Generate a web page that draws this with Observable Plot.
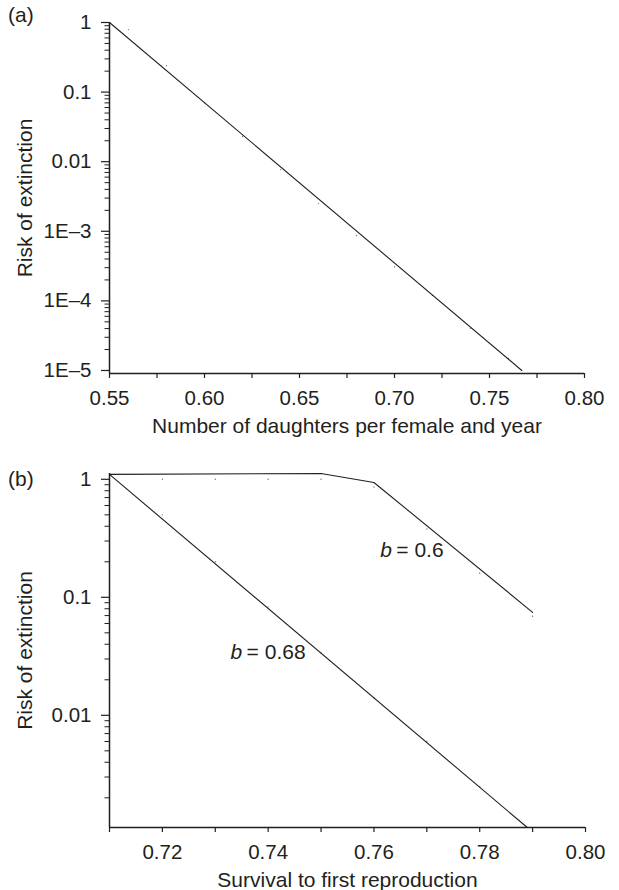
<!DOCTYPE html>
<html><head><meta charset="utf-8">
<script src="https://cdn.jsdelivr.net/npm/d3@7"></script>
<script src="https://cdn.jsdelivr.net/npm/@observablehq/plot@0.6"></script>
<style>
body{margin:0;background:#fff;font-family:"Liberation Sans",Arial,sans-serif;color:#231f20}
#wrap{position:relative;width:619px;height:890px;overflow:hidden}
.panel{position:absolute;left:0}
.tag{position:absolute;left:8px;font-size:21px;line-height:1}
</style></head><body>
<div id="wrap"></div>
<script>
// ---------- Panel (a) data ----------
const fitA_x = [0.55, 0.767];
const fitA_y = [1, 1e-5];
const dotsA_x = [0.56, 0.58, 0.60, 0.62, 0.64, 0.66, 0.68, 0.70, 0.72, 0.74, 0.76];
const dotsA_y = [0.79, 0.24, 0.07, 0.023, 0.0077, 0.0025, 8.7e-4, 3.1e-4, 1.2e-4, 4e-5, 1.5e-5];
const xTicksA = [0.55, 0.60, 0.65, 0.70, 0.75, 0.80];
const xMinorA = [0.575, 0.625, 0.675, 0.725, 0.775];
const yTicksA = [1, 0.1, 0.01, 1e-3, 1e-4, 1e-5];
const yTickLabelsA = ["1", "0.1", "0.01", "1E\u20133", "1E\u20134", "1E\u20135"];
const xLabelA = "Number of daughters per female and year";

// ---------- Panel (b) data ----------
const lineB60_x = [0.71, 0.75, 0.76, 0.79];
const lineB60_y = [1.1, 1.12, 0.94, 0.0746];
const dotsB60_x = [0.72, 0.73, 0.74, 0.75, 0.76, 0.77, 0.78, 0.79];
const dotsB60_y = [1.0, 1.0, 1.0, 1.0, 0.86, 0.38, 0.16, 0.069];
const lineB68_x = [0.71, 0.789];
const lineB68_y = [1.1, 0.00112];
const dotsB68_x = [0.72, 0.73, 0.74, 0.75, 0.76, 0.77, 0.78];
const dotsB68_y = [0.50, 0.20, 0.083, 0.034, 0.014, 0.006, 0.0025];
const xTicksB = [0.72, 0.74, 0.76, 0.78, 0.80];
const xMinorB = [0.71, 0.73, 0.75, 0.77, 0.79];
const yTicksB = [1, 0.1, 0.01];
const yTickLabelsB = ["1", "0.1", "0.01"];
const xLabelB = "Survival to first reproduction";
const labelB60 = {x: 0.7612, y: 0.25, value: "0.6"};
const labelB68 = {x: 0.7329, y: 0.034, value: "0.68"};
const yLabel = "Risk of extinction";

const zip = (xs, ys) => xs.map((x, i) => ({x, y: ys[i]}));
function minorLog(lo, hi) {
  const out = [];
  for (let e = Math.floor(Math.log10(lo)); e <= Math.ceil(Math.log10(hi)); e++)
    for (let k = 2; k <= 9; k++) { const v = k * Math.pow(10, e); if (v >= lo && v <= hi) out.push(v); }
  return out;
}
const ink = "#231f20";
const font = {fontFamily: '"Liberation Sans", Arial, sans-serif', fontSize: "20px", color: ink, background: "white"};
const TICK_FS = 20.5, TITLE_FS = 21;

function panel({xDomain, yDomain, xTicks, xMinor, yTicks, yTickLabels, xLabel, mT, mB, mR, marks, xFmt}) {
  const yFmt = d => yTickLabels[yTicks.findIndex(t => Math.abs(t - d) / t < 1e-6)] ?? "";
  return Plot.plot({
    width: 619, height: 445,
    marginLeft: 109, marginRight: mR, marginTop: mT, marginBottom: mB,
    style: font,
    x: {type: "linear", domain: xDomain},
    y: {type: "log", domain: yDomain},
    marks: [
      Plot.axisY({ticks: yTicks, tickSize: 8, tickPadding: 10, tickFormat: yFmt, label: null, stroke: ink, strokeWidth: 1.2, fontSize: TICK_FS, fill: ink}),
      Plot.axisY({ticks: minorLog(yDomain[0], yDomain[1]).filter(v => !yTicks.some(t => Math.abs(t - v) / t < 1e-6)), tickSize: 4.5, tickFormat: () => "", label: null, stroke: ink, strokeWidth: 1}),
      Plot.axisX({ticks: xTicks, tickSize: 5, tickPadding: 12, tickFormat: xFmt, label: null, stroke: ink, strokeWidth: 1.2, fontSize: TICK_FS, fill: ink}),
      Plot.axisX({ticks: xMinor, tickSize: 5, tickFormat: () => "", label: null, stroke: ink, strokeWidth: 1.2}),
      Plot.ruleX([xDomain[0]], {stroke: ink, strokeWidth: 1.5}),
      Plot.ruleY([yDomain[0]], {stroke: ink, strokeWidth: 1.5}),
      Plot.text([yLabel], {frameAnchor: "left", text: d => d, rotate: -90, textAnchor: "middle", dx: -84, fontSize: TITLE_FS, fill: ink}),
      Plot.text([xLabel], {frameAnchor: "bottom", text: d => d, dy: 59, fontSize: TITLE_FS, fill: ink}),
      ...marks
    ]
  });
}

const wrap = document.getElementById("wrap");

const pa = panel({
  xDomain: [0.55, 0.80], yDomain: [9.05e-6, 1],
  xTicks: xTicksA, xMinor: xMinorA, yTicks: yTicksA, yTickLabels: yTickLabelsA, xLabel: xLabelA,
  mT: 22, mB: 72, mR: 35, xFmt: d => d.toFixed(2),
  marks: [
    Plot.dot(zip(dotsA_x, dotsA_y), {x: "x", y: "y", r: 0.7, fill: "#777", stroke: null}),
    Plot.line(zip(fitA_x, fitA_y), {x: "x", y: "y", stroke: ink, strokeWidth: 1.1})
  ]
});
pa.classList.add("panel"); pa.style.top = "0px";
wrap.appendChild(pa);

const pb = panel({
  xDomain: [0.71, 0.80], yDomain: [0.00112, 1.12],
  xTicks: xTicksB, xMinor: xMinorB, yTicks: yTicksB, yTickLabels: yTickLabelsB, xLabel: xLabelB,
  mT: 28, mB: 63, mR: 34, xFmt: d => d.toFixed(2),
  marks: [
    Plot.dot(zip(dotsB60_x, dotsB60_y), {x: "x", y: "y", r: 0.7, fill: "#777", stroke: null}),
    Plot.dot(zip(dotsB68_x, dotsB68_y), {x: "x", y: "y", r: 0.7, fill: "#777", stroke: null}),
    Plot.line(zip(lineB60_x, lineB60_y), {x: "x", y: "y", stroke: ink, strokeWidth: 1.1}),
    Plot.line(zip(lineB68_x, lineB68_y), {x: "x", y: "y", stroke: ink, strokeWidth: 1.1}),
    Plot.text([labelB60, labelB68], {x: "x", y: "y", text: () => "b", textAnchor: "start", fontStyle: "italic", fontSize: TITLE_FS, fill: ink}),
    Plot.text([labelB60, labelB68], {x: "x", y: "y", text: d => "= " + d.value, textAnchor: "start", dx: 16, fontSize: TITLE_FS, fill: ink})
  ]
});
pb.classList.add("panel"); pb.style.top = "445px";
wrap.appendChild(pb);

for (const [t, top] of [["(a)", 4], ["(b)", 468]]) {
  const d = document.createElement("div");
  d.className = "tag"; d.textContent = t; d.style.top = top + "px";
  wrap.appendChild(d);
}
</script>
</body></html>
